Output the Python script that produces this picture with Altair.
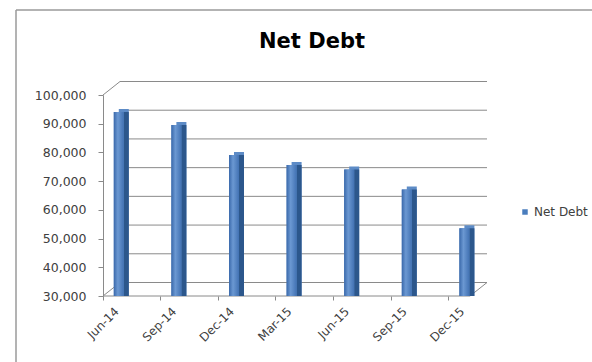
import altair as alt
import pandas as pd

# ---- data ----
categories = ["Jun-14", "Sep-14", "Dec-14", "Mar-15", "Jun-15", "Sep-15", "Dec-15"]
net_debt = [92000, 87500, 77000, 73500, 72000, 65000, 51500]
series_name = "Net Debt"
y_ticks = [30000, 40000, 50000, 60000, 70000, 80000, 90000, 100000]
y_min, y_max = 30000, 100000

df = pd.DataFrame({
    "period": categories,
    "value": net_debt,
    "base": [y_min] * len(categories),
    "series": [series_name] * len(categories),
})
grid_df = pd.DataFrame({"tick": y_ticks})
one = pd.DataFrame({"k": [0]})

# ---- layout constants (pixels) ----
W, H = 489, 216
DX, DY = 17, -13.5          # 3D depth offset of the back wall
FONT = "DejaVu Sans"
GRAY = "#8a8a8a"
LABEL = "#404040"

x_scale = alt.Scale(type="band", domain=categories, range=[0, 403.2],
                    paddingInner=0, paddingOuter=0)
y_scale = alt.Scale(domain=[y_min, y_max], range=[216, 15], zero=False, nice=False)

x_axis = alt.Axis(
    title=None, bandPosition=0, labelAngle=315, labelAlign="right",
    labelBaseline="middle", labelOffset=-15, labelPadding=9, tickSize=4,
    tickColor=GRAY, domain=False, grid=False, labelFont=FONT,
    labelFontSize=12, labelColor=LABEL, labelOverlap=False)
y_axis = alt.Axis(
    title=None, values=y_ticks, tickCount=len(y_ticks), format=",.0f",
    formatType="number", tickSize=5, tickColor=GRAY, domainColor=GRAY,
    labelPadding=12, labelFont=FONT, labelFontSize=12.5, labelColor=LABEL,
    grid=False, labelOverlap=False)

x_enc = alt.X("period:N", scale=x_scale)
y_enc = alt.Y("value:Q", scale=y_scale)

BAR_W = 10
BX, BY = -13, -6   # bar placement (middle depth)

base = alt.Chart(df)

front = base.mark_bar(size=BAR_W, xOffset=BX, yOffset=BY).encode(
    x=alt.X("period:N", scale=x_scale, axis=x_axis),
    y=alt.Y("value:Q", scale=y_scale, axis=y_axis),
    y2="base:Q",
    color=alt.Color("series:N", scale=alt.Scale(range=["#4a7dbd"]), legend=alt.Legend(
        orient="none", legendX=416, legendY=126, title=None, symbolType="square",
        symbolSize=30, symbolStrokeWidth=0, labelFont=FONT, labelFontSize=12,
        labelColor=LABEL, padding=0, labelOffset=3)),
)

cap = base.mark_bar(size=BAR_W, xOffset=BX + 5, yOffset=BY - 3, color="#5d8bc6").encode(
    x=x_enc, y=y_enc, y2="base:Q")
side = base.mark_bar(size=5, xOffset=BX + 7.5, yOffset=BY, color="#2c578c").encode(
    x=x_enc, y=y_enc, y2="base:Q")

# back-wall gridlines
grid = alt.Chart(grid_df).mark_rule(color=GRAY, strokeWidth=1, yOffset=DY).encode(
    y=alt.Y("tick:Q", scale=y_scale),
    x=alt.value(DX), x2=alt.value(384),
)

# floor edges and frame diagonals
frame = alt.layer(
    alt.Chart(one).mark_rule(color=GRAY).encode(x=alt.value(0), x2=alt.value(367), y=alt.value(216)),
    alt.Chart(one).mark_rule(color=GRAY).encode(x=alt.value(0), x2=alt.value(DX), y=alt.value(216), y2=alt.value(216 + DY)),
    alt.Chart(one).mark_rule(color=GRAY).encode(x=alt.value(367), x2=alt.value(367 + DX), y=alt.value(216), y2=alt.value(216 + DY)),
    alt.Chart(one).mark_rule(color=GRAY).encode(x=alt.value(0), x2=alt.value(DX), y=alt.value(15), y2=alt.value(15 + DY)),
)

# outer chart border
border = alt.layer(
    alt.Chart(one).mark_rule(color="#9a9a9a", strokeWidth=1.5).encode(x=alt.value(-87), y=alt.value(-70), y2=alt.value(290)),
    alt.Chart(one).mark_rule(color="#9a9a9a", strokeWidth=1.5).encode(x=alt.value(-87), x2=alt.value(500), y=alt.value(-70)),
)

shade = base.mark_bar(size=BAR_W, xOffset=BX, yOffset=BY, fill=alt.Gradient(
    gradient="linear",
    stops=[alt.GradientStop(color="#3a69ab", offset=0),
           alt.GradientStop(color="#6b98d2", offset=0.4),
           alt.GradientStop(color="#4272b3", offset=1)],
    x1=0, x2=1, y1=0, y2=0)).encode(x=x_enc, y=y_enc, y2="base:Q")

title = alt.Chart(one).mark_text(
    text="Net Debt", font=FONT, fontSize=21, fontWeight="bold", color="#000000",
    align="center", baseline="alphabetic").encode(x=alt.value(209), y=alt.value(-32))

chart = alt.layer(front, border, grid, frame, cap, side, shade, title).properties(
    width=W, height=H,
    padding={"left": 103, "top": 80, "right": 0, "bottom": 66},
    autosize=alt.AutoSizeParams(type="none"),
    background="white",
).configure_view(stroke=None)

chart.save("out.html", embed_options={"renderer": "svg", "actions": False})
